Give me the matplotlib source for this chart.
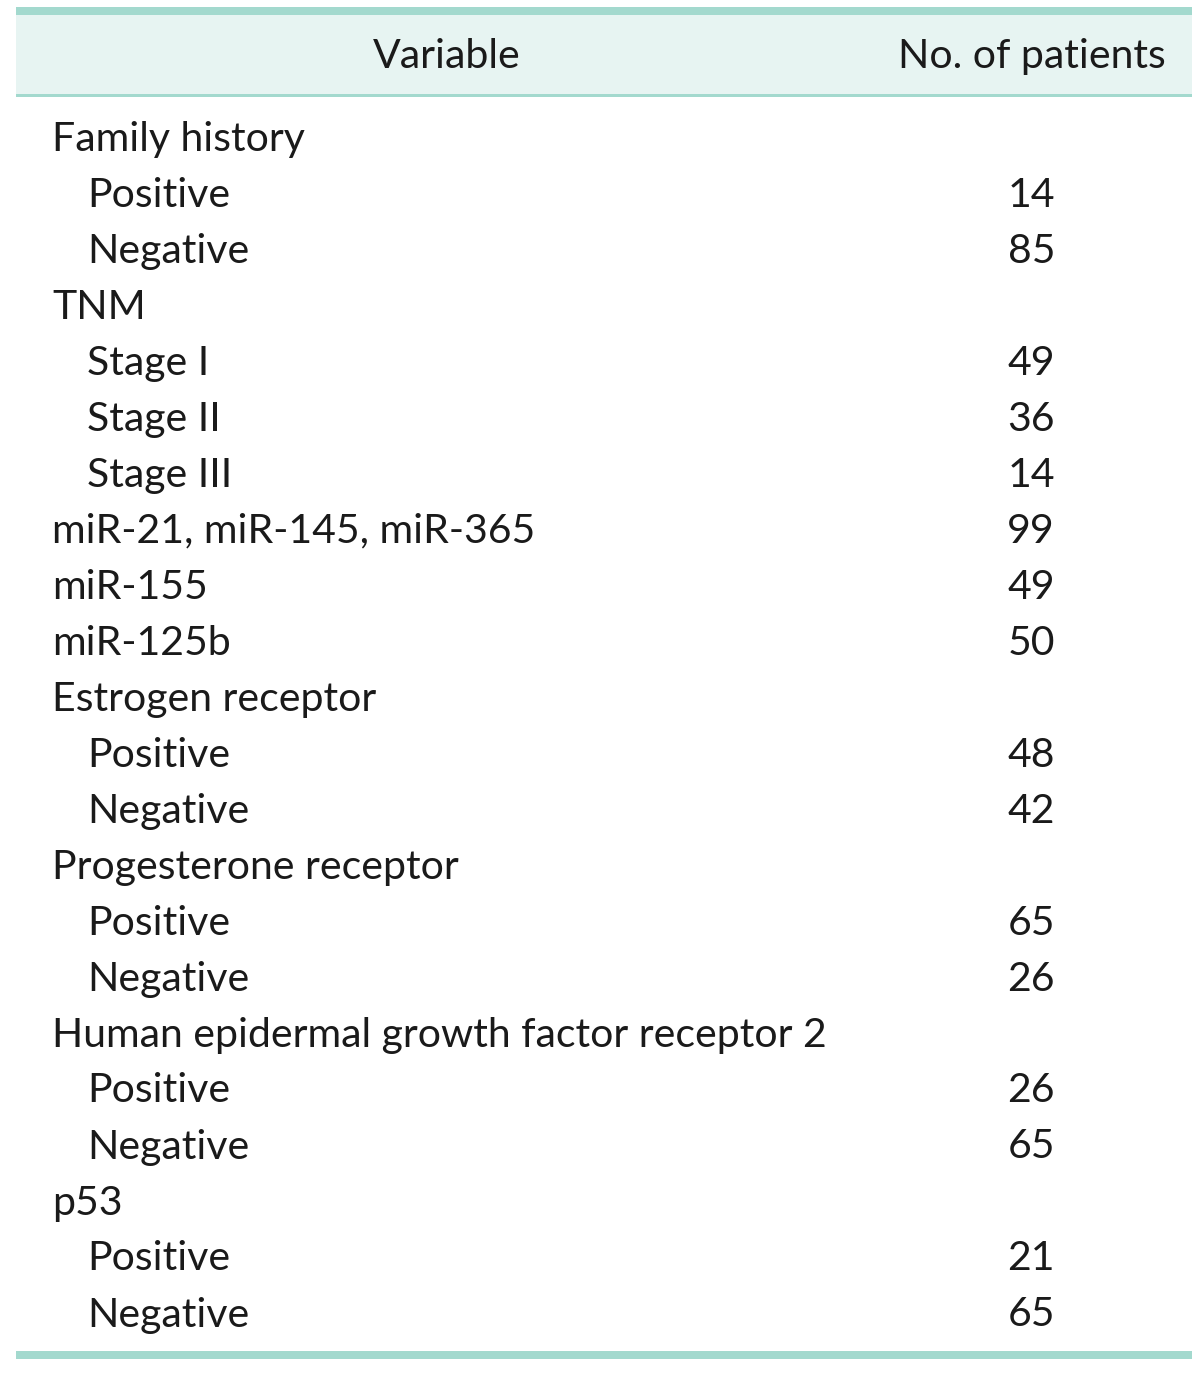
import matplotlib
matplotlib.use("Agg")
import matplotlib.pyplot as plt

header = ["Variable", "No. of patients"]
labels = ["Family history", "Positive", "Negative", "TNM", "Stage I", "Stage II", "Stage III",
          "miR-21, miR-145, miR-365", "miR-155", "miR-125b", "Estrogen receptor", "Positive", "Negative",
          "Progesterone receptor", "Positive", "Negative",
          "Human epidermal growth factor receptor 2", "Positive", "Negative", "p53", "Positive", "Negative"]
indent = [0, 1, 1, 0, 1, 1, 1, 0, 0, 0, 0, 1, 1, 0, 1, 1, 0, 1, 1, 0, 1, 1]
counts = ["", "14", "85", "", "49", "36", "14", "99", "49", "50", "", "48", "42", "", "65", "26",
          "", "26", "65", "", "21", "65"]

W, H = 1200, 1382
fig = plt.figure(figsize=(W / 100, H / 100), dpi=100)
ax = fig.add_axes([0, 0, 1, 1])
ax.set_xlim(0, W)
ax.set_ylim(H, 0)
ax.axis("off")

line_c = "#A3D9CE"
fill_c = "#E7F4F2"
x0, x1 = 16, 1192
font = "Lato"
fs = 29.5

ax.fill_between([x0, x1], 15, 94, color=fill_c, lw=0)
ax.fill_between([x0, x1], 7, 15, color=line_c, lw=0)
ax.fill_between([x0, x1], 94, 96.5, color=line_c, lw=0)
ax.fill_between([x0, x1], 1351, 1359, color=line_c, lw=0)

ax.text(447, 56, header[0], ha="center", va="center", fontsize=fs, family=font, color="#1a1a1a")
ax.text(1166, 56, header[1], ha="right", va="center", fontsize=fs, family=font, color="#1a1a1a")

y0, step = 139, 56
for i, (lab, ind, c) in enumerate(zip(labels, indent, counts)):
    y = y0 + i * step
    ax.text(52 + 35 * ind, y, lab, ha="left", va="center", fontsize=fs, family=font, color="#1a1a1a")
    if c:
        ax.text(1055, y, c, ha="right", va="center", fontsize=fs, family=font, color="#1a1a1a")

fig.savefig("out.png", dpi=100)
